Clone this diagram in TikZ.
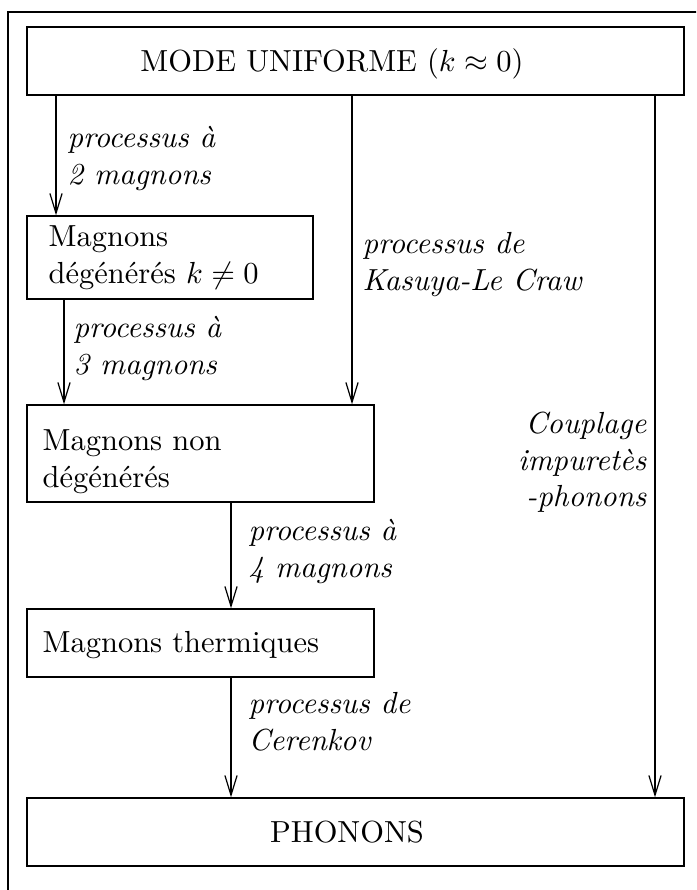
\documentclass[tikz,border=0pt]{standalone}
\usetikzlibrary{arrows.meta,fit}
\begin{document}
\begin{tikzpicture}[x=0.328pt,y=-0.328pt,
  box/.style={draw,rectangle,inner sep=0pt,line width=0.45pt},
  txt/.style={inner sep=0pt,align=left,anchor=north west},
  lbl/.style={inner sep=0pt,align=left,anchor=north west,font=\itshape},
  arr/.style={-{Straight Barb[length=6.5pt,width=4pt]},line width=0.4pt}]
\useasboundingbox (0,0) rectangle (696,890);
\clip (0,0) rectangle (696,890);
\draw[line width=0.45pt] (8,12) rectangle (720,920);
% boxes
\node[box,fit={(27,27) (684,95)}] (top) {};
\node[box,fit={(27,216) (313,299)}] (deg) {};
\node[box,fit={(27,405) (374,502)}] (nondeg) {};
\node[box,fit={(27,609) (374,677)}] (therm) {};
\node[box,fit={(27,798) (684,866)}] (phon) {};
% box texts
\node[inner sep=0pt,anchor=base] (ttop) at (332,72) {MODE UNIFORME ($k\approx 0$)};
\node[txt] (tdeg) at (48,220.4) {\strut Magnons\\\strut dégénérés $k\neq 0$};
\node[txt] (tnondeg) at (42,424.4) {\strut Magnons non\\\strut dégénérés};
\node[inner sep=0pt,anchor=base west] (ttherm) at (42,652) {Magnons thermiques};
\node[inner sep=0pt,anchor=base] (tphon) at (347,842) {PHONONS};
% arrows
\draw[arr] (56,0 |- top.south) -- (56,0 |- deg.north);
\draw[arr] (64,0 |- deg.south) -- (64,0 |- nondeg.north);
\draw[arr] (352,0 |- top.south) -- (352,0 |- nondeg.north);
\draw[arr] (231,0 |- nondeg.south) -- (231,0 |- therm.north);
\draw[arr] (231,0 |- therm.south) -- (231,0 |- phon.north);
\draw[arr] (655,0 |- top.south) -- (655,0 |- phon.north);
% labels
\node[lbl] (l2) at (67,121.4) {\strut processus à\\\strut 2 magnons};
\node[lbl] (l3) at (73,311.4) {\strut processus à\\\strut 3 magnons};
\node[lbl] (lk) at (362,227.4) {\strut processus de\\\strut Kasuya-Le Craw};
\node[lbl] (l4) at (248,514.4) {\strut processus à\\\strut 4 magnons};
\node[lbl] (lc) at (248,687.4) {\strut processus de\\\strut Cerenkov};
\node[inner sep=0pt,align=right,anchor=north east,font=\itshape] (lcp) at (647,407.4) {\strut Couplage\\\strut impuretès\hspace{1.6pt}\\\strut -phonons};
\end{tikzpicture}
\end{document}
